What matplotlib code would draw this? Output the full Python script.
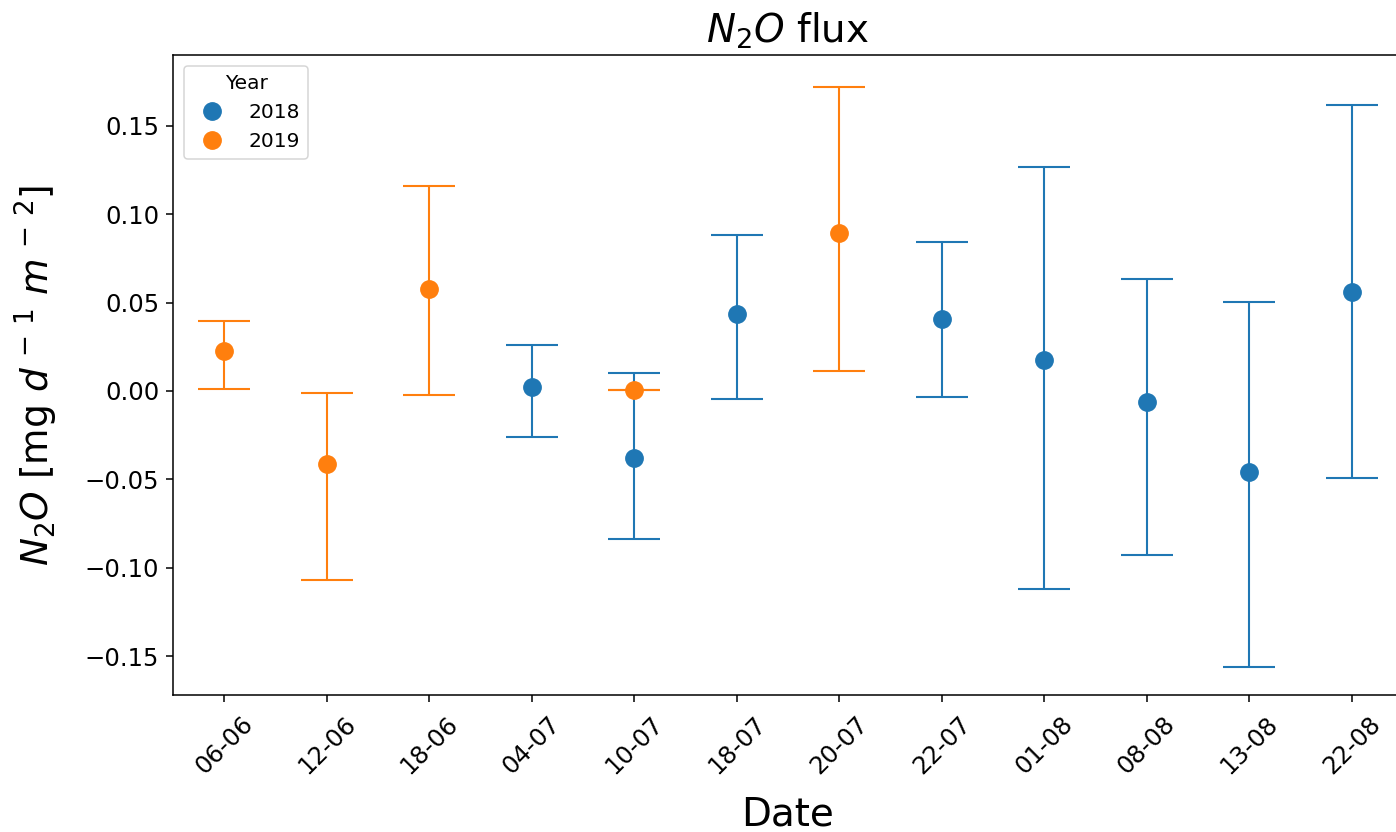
import numpy as np
import matplotlib.pyplot as plt

dates = ["06-06", "12-06", "18-06", "04-07", "10-07", "18-07",
         "20-07", "22-07", "01-08", "08-08", "13-08", "22-08"]

# 2018 series
x_2018 = ["04-07", "10-07", "18-07", "22-07", "01-08", "08-08", "13-08", "22-08"]
mean_2018 = [0.002, -0.038, 0.0435, 0.0407, 0.0175, -0.0062, -0.0458, 0.0559]
lo_2018 = [-0.026, -0.0836, -0.0045, -0.0034, -0.112, -0.0927, -0.156, -0.049]
hi_2018 = [0.026, 0.0102, 0.088, 0.0842, 0.127, 0.0633, 0.0503, 0.162]

# 2019 series
x_2019 = ["06-06", "12-06", "18-06", "10-07", "20-07"]
mean_2019 = [0.0226, -0.0412, 0.0576, 0.0008, 0.0893]
lo_2019 = [0.001, -0.107, -0.0023, 0.0008, 0.0113]
hi_2019 = [0.0395, -0.001, 0.116, 0.0008, 0.172]

series = [("2018", x_2018, mean_2018, lo_2018, hi_2018, "#1f77b4"),
          ("2019", x_2019, mean_2019, lo_2019, hi_2019, "#ff7f0e")]

fig = plt.figure(figsize=(13.96, 8.32), dpi=100)
ax = fig.add_axes([0.124, 0.1647, 0.881, 0.769])

for year, xs, m, lo, hi, c in series:
    pos = np.array([dates.index(d) for d in xs])
    m = np.array(m)
    yerr = np.vstack([m - np.array(lo), np.array(hi) - m])
    ax.errorbar(pos, m, yerr=yerr, fmt="none", ecolor=c, elinewidth=1.5,
                capsize=19, capthick=1.5)
    ax.plot(pos, m, "o", color=c, ms=12.5, ls="none", label=year)

ax.set_xlim(-0.5, 11.5)
ax.set_ylim(-0.172, 0.190)
ax.set_xticks(range(len(dates)))
ax.set_xticklabels(dates, rotation=45)
ax.tick_params(labelsize=17.5, width=1.1, length=5, pad=5)
ax.tick_params(axis="x", pad=7)
for sp in ax.spines.values():
    sp.set_linewidth(1.1)
ax.set_xlabel("Date", fontsize=28, labelpad=12)
ax.set_ylabel(r"$N_2O$ [mg $d^{\,-\,1}$ $m^{\,-\,2}$]", fontsize=27, labelpad=18)
ax.set_title(r"$N_2O$ flux", fontsize=28, pad=9)
leg = ax.legend(title="Year", loc="upper left", fontsize=14.5, title_fontsize=14.5,
                markerscale=1.0, borderaxespad=0.55)
leg.get_frame().set_linewidth(1.1)

fig.savefig("out.png", dpi=100)
